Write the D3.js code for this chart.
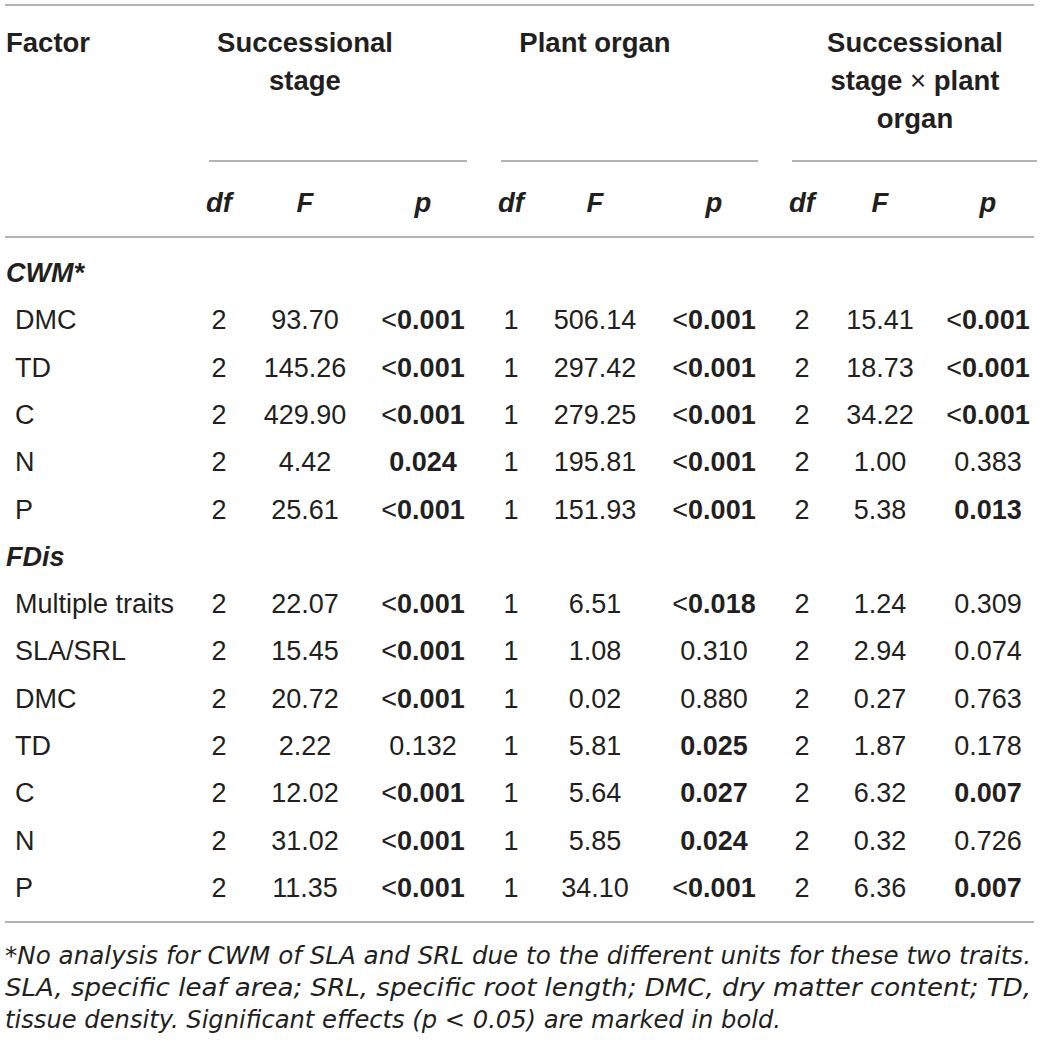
<!DOCTYPE html>
<html>
<head>
<meta charset="utf-8">
<script src="https://cdn.jsdelivr.net/npm/d3@7"></script>
<style>
  html, body { margin: 0; padding: 0; background: #fff; }
  svg { display: block; }
</style>
</head>
<body>
<svg id="chart" width="1044" height="1047"></svg>
<script>
// ---------- data ----------
const groupHeaders = [["Successional", "stage"], ["Plant organ"], ["Successional", "stage × plant", "organ"]];
const subHeaders = ["df", "F", "p", "df", "F", "p", "df", "F", "p"];
const sections = ["CWM*", "FDis"];
const cwmFactors = ["DMC", "TD", "C", "N", "P"];
const fdisFactors = ["Multiple traits", "SLA/SRL", "DMC", "TD", "C", "N", "P"];

// Successional stage
const stageDf = [2, 2, 2, 2, 2, 2, 2, 2, 2, 2, 2, 2];
const stageF = ["93.70", "145.26", "429.90", "4.42", "25.61", "22.07", "15.45", "20.72", "2.22", "12.02", "31.02", "11.35"];
const stageP = ["<0.001", "<0.001", "<0.001", "0.024", "<0.001", "<0.001", "<0.001", "<0.001", "0.132", "<0.001", "<0.001", "<0.001"];
const stageSig = [1, 1, 1, 1, 1, 1, 1, 1, 0, 1, 1, 1];
// Plant organ
const organDf = [1, 1, 1, 1, 1, 1, 1, 1, 1, 1, 1, 1];
const organF = ["506.14", "297.42", "279.25", "195.81", "151.93", "6.51", "1.08", "0.02", "5.81", "5.64", "5.85", "34.10"];
const organP = ["<0.001", "<0.001", "<0.001", "<0.001", "<0.001", "<0.018", "0.310", "0.880", "0.025", "0.027", "0.024", "<0.001"];
const organSig = [1, 1, 1, 1, 1, 1, 0, 0, 1, 1, 1, 1];
// Interaction
const interDf = [2, 2, 2, 2, 2, 2, 2, 2, 2, 2, 2, 2];
const interF = ["15.41", "18.73", "34.22", "1.00", "5.38", "1.24", "2.94", "0.27", "1.87", "6.32", "0.32", "6.36"];
const interP = ["<0.001", "<0.001", "<0.001", "0.383", "0.013", "0.309", "0.074", "0.763", "0.178", "0.007", "0.726", "0.007"];
const interSig = [1, 1, 1, 0, 1, 0, 0, 0, 0, 1, 0, 1];

const footnote = [
  "*No analysis for CWM of SLA and SRL due to the different units for these two traits.",
  "SLA, specific leaf area; SRL, specific root length; DMC, dry matter content; TD,",
  "tissue density. Significant effects (p < 0.05) are marked in bold."
];

// ---------- layout ----------
const svg = d3.select("#chart");
const FONT = "'Liberation Sans', Arial, Helvetica, sans-serif";
const TXT = "#231f20";
const RULE = "#9a9a9a";

const colKeys = d3.range(9);
const xCol = d3.scaleOrdinal().domain(colKeys).range([219, 305, 423, 511, 595, 714, 802, 880, 988]);
const groupCenter = [305, 595, 915];
const groupSpan = [[209, 467], [501, 758], [792, 1037]];

// row index 0 = CWM* header ... 13 = last P
const yRow = d3.scaleLinear().domain([0, 13]).range([282, 897]);

// rules
const rules = [
  { x1: 5, x2: 1034, y: 5 },
  { x1: 5, x2: 1034, y: 237 },
  { x1: 5, x2: 1034, y: 922 }
].concat(groupSpan.map(s => ({ x1: s[0], x2: s[1], y: 161 })));
svg.selectAll("line.rule").data(rules).join("line")
  .attr("class", "rule")
  .attr("x1", d => d.x1).attr("x2", d => d.x2)
  .attr("y1", d => d.y).attr("y2", d => d.y)
  .attr("stroke", RULE).attr("stroke-width", 1.4);

// header
const hdr = svg.append("g").attr("font-family", FONT).attr("fill", TXT)
  .attr("font-weight", "bold").attr("font-size", 27.5);
hdr.append("text").attr("x", 6).attr("y", 52).text("Factor");
groupHeaders.forEach((lines, gi) => {
  lines.forEach((ln, li) => {
    const t = hdr.append("text").attr("x", groupCenter[gi]).attr("y", 52 + li * 38)
      .attr("text-anchor", "middle");
    if (ln.includes("×")) {
      const parts = ln.split("×");
      t.append("tspan").text(parts[0]);
      t.append("tspan").attr("font-weight", "normal").text(" × ");
      t.append("tspan").text(parts[1].trim());
    } else {
      t.text(ln);
    }
  });
});
hdr.selectAll("text.sub").data(subHeaders).join("text")
  .attr("class", "sub")
  .attr("x", (d, i) => xCol(i)).attr("y", 212)
  .attr("text-anchor", "middle").attr("font-style", "italic")
  .text(d => d);

// body
const body = svg.append("g").attr("font-family", FONT).attr("fill", TXT).attr("font-size", 27);

// section headers
const sectionRows = [0, 6];
body.selectAll("text.sec").data(sections).join("text")
  .attr("class", "sec")
  .attr("x", 6).attr("y", (d, i) => yRow(sectionRows[i]))
  .attr("font-weight", "bold").attr("font-style", "italic")
  .text(d => d);

// data rows
const factors = cwmFactors.concat(fdisFactors);
const rows = factors.map((f, i) => ({
  name: f,
  r: i < cwmFactors.length ? i + 1 : i + 2,
  cells: [
    { v: String(stageDf[i]) }, { v: stageF[i] }, { v: stageP[i], sig: stageSig[i] },
    { v: String(organDf[i]) }, { v: organF[i] }, { v: organP[i], sig: organSig[i] },
    { v: String(interDf[i]) }, { v: interF[i] }, { v: interP[i], sig: interSig[i] }
  ]
}));

const rowG = body.selectAll("g.row").data(rows).join("g")
  .attr("class", "row")
  .attr("transform", d => `translate(0,${yRow(d.r)})`);
rowG.append("text").attr("x", 15).attr("y", 0).text(d => d.name);

rowG.each(function (d) {
  const g = d3.select(this);
  d.cells.forEach((c, ci) => {
    const t = g.append("text").attr("x", xCol(ci)).attr("y", 0).attr("text-anchor", "middle");
    if (c.v.startsWith("<")) {
      t.append("tspan").text("<");
      t.append("tspan").attr("font-weight", c.sig ? "bold" : "normal").text(c.v.slice(1));
    } else {
      t.attr("font-weight", c.sig ? "bold" : "normal").text(c.v);
    }
  });
});

// footnote
const fnWidths = [1026, 1026, 776];
svg.append("g").attr("font-family", "'Liberation Sans Narrow', 'DejaVu Sans Condensed', " + FONT)
  .attr("font-style", "italic").attr("fill", TXT).attr("font-size", 24.5)
  .selectAll("text").data(footnote).join("text")
  .attr("x", 5).attr("y", (d, i) => 964 + i * 32)
  .attr("textLength", (d, i) => fnWidths[i])
  .attr("lengthAdjust", "spacingAndGlyphs")
  .text(d => d);
</script>
</body>
</html>
